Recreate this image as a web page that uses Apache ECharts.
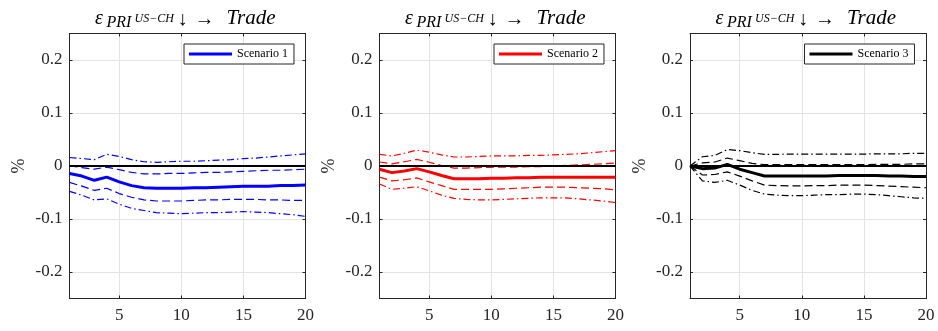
<!DOCTYPE html>
<html><head><meta charset="utf-8">
<script src="https://cdn.jsdelivr.net/npm/echarts@6/dist/echarts.min.js"></script>
<style>html,body{margin:0;padding:0;background:#fff}#c{width:938px;height:331px}</style>
</head><body><div id="c"></div>
<script>
const horizons = [1,2,3,4,5,6,7,8,9,10,11,12,13,14,15,16,17,18,19,20];
const xTicks = [5,10,15,20];
const yTicks = [-0.2,-0.1,0,0.1,0.2];
const yTickLabels = ['-0.2','-0.1','0','0.1','0.2'];
const scenarioNames = ['Scenario 1','Scenario 2','Scenario 3'];
const scenarioColors = ['#0000ff','#ff0000','#000000'];
const titleParts = ['ε','PRI','US−CH','↓','→','Trade'];

// Scenario 1
const s1Median = [-0.014,-0.019,-0.027,-0.021,-0.030,-0.037,-0.041,-0.042,-0.042,-0.042,-0.041,-0.041,-0.040,-0.039,-0.038,-0.038,-0.038,-0.037,-0.037,-0.036];
const s1Up68 = [0.000,-0.003,-0.006,-0.002,-0.007,-0.012,-0.015,-0.015,-0.014,-0.014,-0.013,-0.012,-0.012,-0.011,-0.010,-0.009,-0.008,-0.008,-0.007,-0.006];
const s1Lo68 = [-0.031,-0.038,-0.046,-0.042,-0.052,-0.059,-0.064,-0.066,-0.066,-0.066,-0.065,-0.064,-0.064,-0.063,-0.063,-0.063,-0.064,-0.064,-0.065,-0.065];
const s1Up90 = [0.016,0.014,0.012,0.022,0.018,0.012,0.008,0.007,0.008,0.009,0.009,0.010,0.011,0.012,0.014,0.015,0.017,0.019,0.021,0.023];
const s1Lo90 = [-0.048,-0.055,-0.064,-0.062,-0.072,-0.080,-0.084,-0.088,-0.089,-0.090,-0.089,-0.088,-0.088,-0.087,-0.086,-0.087,-0.088,-0.090,-0.092,-0.095];
// Scenario 2
const s2Median = [-0.006,-0.0125,-0.0095,-0.005,-0.011,-0.018,-0.024,-0.024,-0.024,-0.023,-0.023,-0.022,-0.022,-0.021,-0.021,-0.021,-0.021,-0.021,-0.021,-0.021];
const s2Up68 = [0.0075,0.004,0.008,0.0125,0.007,0.001,-0.004,-0.004,-0.003,-0.0025,-0.002,-0.002,-0.001,-0.001,0.000,0.001,0.002,0.003,0.004,0.0056];
const s2Lo68 = [-0.021,-0.028,-0.026,-0.0225,-0.030,-0.037,-0.044,-0.044,-0.044,-0.044,-0.043,-0.042,-0.041,-0.040,-0.040,-0.040,-0.041,-0.042,-0.043,-0.045];
const s2Up90 = [0.022,0.019,0.024,0.030,0.026,0.021,0.017,0.017,0.018,0.019,0.019,0.019,0.020,0.020,0.021,0.022,0.023,0.025,0.027,0.029];
const s2Lo90 = [-0.034,-0.044,-0.042,-0.039,-0.047,-0.055,-0.061,-0.063,-0.064,-0.064,-0.063,-0.062,-0.061,-0.060,-0.060,-0.060,-0.062,-0.064,-0.066,-0.069];
// Scenario 3
const s3Median = [0,-0.005,-0.004,0.003,-0.006,-0.0125,-0.019,-0.019,-0.019,-0.019,-0.019,-0.019,-0.018,-0.018,-0.018,-0.018,-0.019,-0.019,-0.020,-0.020];
const s3Up68 = [0,0.006,0.0075,0.015,0.010,0.005,0.0025,0.0025,0.0025,0.0025,0.0025,0.0025,0.0025,0.0025,0.0025,0.003,0.003,0.003,0.004,0.004];
const s3Lo68 = [0,-0.017,-0.016,-0.011,-0.019,-0.028,-0.036,-0.037,-0.0375,-0.0375,-0.037,-0.037,-0.036,-0.036,-0.036,-0.037,-0.038,-0.039,-0.040,-0.041];
const s3Up90 = [0,0.0175,0.020,0.031,0.029,0.025,0.022,0.022,0.0225,0.0225,0.0225,0.0225,0.0225,0.0225,0.0225,0.023,0.023,0.023,0.024,0.024];
const s3Lo90 = [0,-0.028,-0.031,-0.027,-0.036,-0.046,-0.053,-0.055,-0.056,-0.056,-0.055,-0.054,-0.054,-0.053,-0.053,-0.054,-0.056,-0.058,-0.060,-0.061];

const panels = [
  {median:s1Median, up68:s1Up68, lo68:s1Lo68, up90:s1Up90, lo90:s1Lo90},
  {median:s2Median, up68:s2Up68, lo68:s2Lo68, up90:s2Up90, lo90:s2Lo90},
  {median:s3Median, up68:s3Up68, lo68:s3Lo68, up90:s3Up90, lo90:s3Lo90}
];

const FONT = 'Liberation Serif';
const gridLefts = [69.5, 379.5, 690];
const gridW = 236, gridTop = 33.5, gridH = 265;
const axisColor = '#262626';
// title piece layout relative to the grid's left edge: [dx, middleY, fontSize, italic]
const titleLayout = [[25.5,18.4,20,true],[37,22.7,16,true],[65,19,12,true],[108,19.6,20,false],[125,19.6,20,false],[157,18,21,true]];

const option = {
  animation:false,
  backgroundColor:'#fff',
  graphic:[], legend:[], grid:[], xAxis:[], yAxis:[], series:[]
};

const zip = arr => horizons.map((h,i)=>[h,arr[i]]);

panels.forEach((p,i)=>{
  titleParts.forEach((t,k)=>{
    const L = titleLayout[k];
    option.graphic.push({
      type:'text', x: gridLefts[i] + L[0], y: L[1], silent:true,
      style:{text:t, fill:'#000', font:(L[3]?'italic ':'')+L[2]+'px "'+FONT+'"', align:'left', verticalAlign:'middle'}
    });
  });
  option.grid.push({left:gridLefts[i], top:gridTop, width:gridW, height:gridH, outerBoundsMode:'none', containLabel:false});
  option.xAxis.push({
    type:'value', gridIndex:i, min:1, max:20, position:'bottom',
    axisLine:{show:true,onZero:false,lineStyle:{color:axisColor,width:1}},
    axisTick:{show:true,inside:true,length:3,customValues:xTicks,lineStyle:{color:axisColor}},
    axisLabel:{show:true,customValues:xTicks,fontFamily:FONT,fontSize:17,color:'#262626',margin:9},
    splitLine:{show:true,lineStyle:{color:'#e3e3e3',width:1}}
  });
  option.xAxis.push({
    type:'value', gridIndex:i, min:1, max:20, position:'top',
    axisLine:{show:true,onZero:false,lineStyle:{color:axisColor,width:1}},
    axisTick:{show:true,inside:true,length:3,customValues:xTicks,lineStyle:{color:axisColor}},
    axisLabel:{show:false}, splitLine:{show:false}
  });
  option.yAxis.push({
    type:'value', gridIndex:i, min:-0.25, max:0.25, position:'left',
    name:'%', nameLocation:'middle', nameGap:41, nameRotate:90,
    nameTextStyle:{fontFamily:FONT,fontSize:18,color:'#262626'},
    axisLine:{show:true,onZero:false,lineStyle:{color:axisColor,width:1}},
    axisTick:{show:true,inside:true,length:3,customValues:yTicks,lineStyle:{color:axisColor}},
    axisLabel:{show:true,customValues:yTicks,fontFamily:FONT,fontSize:17,color:'#262626',margin:7,
      formatter:v=>{const k=yTicks.findIndex(t=>Math.abs(t-v)<1e-9);return k>=0?yTickLabels[k]:'';}},
    splitLine:{show:true,lineStyle:{color:'#e3e3e3',width:1}}
  });
  option.yAxis.push({
    type:'value', gridIndex:i, min:-0.25, max:0.25, position:'right',
    axisLine:{show:true,onZero:false,lineStyle:{color:axisColor,width:1}},
    axisTick:{show:true,inside:true,length:3,customValues:yTicks,lineStyle:{color:axisColor}},
    axisLabel:{show:false}, splitLine:{show:false}
  });
  const xi = i*2, yi = i*2, col = scenarioColors[i];
  const band = (data, type)=>({
    type:'line', xAxisIndex:xi, yAxisIndex:yi, data:zip(data), symbol:'none', silent:true,
    lineStyle:{color:col,width:1.2,type:type}, z:2
  });
  option.series.push(band(p.up90,[7,3,1.5,3]));
  option.series.push(band(p.lo90,[7,3,1.5,3]));
  option.series.push(band(p.up68,[8,4]));
  option.series.push(band(p.lo68,[8,4]));
  option.series.push({
    name:scenarioNames[i], type:'line', xAxisIndex:xi, yAxisIndex:yi, data:zip(p.median), symbol:'none',
    lineStyle:{color:col,width:3}, itemStyle:{color:col}, z:3,
    markLine:{silent:true,symbol:'none',label:{show:false},lineStyle:{color:'#000',width:2,type:'solid'},data:[{yAxis:0}],z:4}
  });
  option.legend.push({
    data:[scenarioNames[i]], left:gridLefts[i]+114.5, top:44,
    orient:'horizontal', icon:'rect', itemWidth:43, itemHeight:3,
    backgroundColor:'#fff', borderColor:'#262626', borderWidth:1, borderRadius:0, padding:[4,6,4,5],
    textStyle:{fontFamily:FONT,fontSize:12,color:'#000'}, selectedMode:false
  });
});

const chart = echarts.init(document.getElementById('c'), null, {renderer:'canvas'});
chart.setOption(option);
</script>
</body></html>
